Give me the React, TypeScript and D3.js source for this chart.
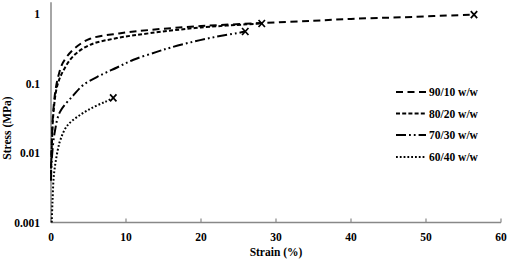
import React from "react";
import * as d3 from "d3";

const xTicks = [0, 10, 20, 30, 40, 50, 60];
const yTicks = [0.001, 0.01, 0.1, 1];
const yTickLabels = ["0.001", "0.01", "0.1", "1"];

const s9010: [number, number][] = [[0,0.006],[0.15,0.02],[0.3,0.04],[0.6,0.08],[1,0.13],[1.6,0.2],[3,0.31],[5.2,0.44],[8.8,0.52],[13.2,0.59],[20,0.67],[28,0.74],[35,0.8],[40,0.85],[47,0.9],[56.4,0.98]];
const s8020: [number, number][] = [[0,0.005],[0.1,0.012],[0.3,0.035],[0.8,0.09],[1.6,0.15],[3,0.25],[5.2,0.36],[8.8,0.45],[13.2,0.53],[20,0.64],[28.1,0.73]];
const s7030: [number, number][] = [[0,0.004],[0.1,0.008],[0.5,0.02],[1.2,0.039],[3,0.068],[4.3,0.095],[6.5,0.13],[8.8,0.17],[11,0.22],[14.1,0.285],[16,0.33],[19,0.4],[22,0.47],[24.8,0.53],[25.9,0.56]];
const s6040: [number, number][] = [[0.1,0.001],[0.2,0.002],[0.4,0.005],[0.9,0.011],[1.3,0.016],[2.2,0.025],[4,0.036],[5.7,0.046],[7.3,0.055],[8.3,0.062]];

const seriesNames = ["90/10 w/w", "80/20 w/w", "70/30 w/w", "60/40 w/w"];
const seriesData = [s9010, s8020, s7030, s6040];
const dashes = ["7 4.5", "4 2.2", "10 3 1.8 3 1.8 3", "1.8 2"];

export default function App() {
  const W = 510, H = 262;
  const x = d3.scaleLinear().domain([0, 60]).range([51, 501]);
  const y = d3.scaleLog().domain([0.001, 1]).range([222.5, 14]);
  const line = d3
    .line<[number, number]>()
    .x((d) => x(d[0]))
    .y((d) => y(d[1]))
    .curve(d3.curveCatmullRom.alpha(0.5));
  const font = "'Liberation Serif', 'Times New Roman', serif";
  const axisColor = "#888";
  const legendY = [92, 113.5, 135, 157];
  return (
    <svg width={W} height={H} style={{ position: "absolute", left: 0, top: 0, background: "#fff" }}>
      <rect width={W} height={H} fill="#fff" />
      <line x1={x(0)} x2={x(0)} y1={y(1.48)} y2={y(0.001)} stroke={axisColor} strokeWidth={1.5} />
      <line x1={x(0)} x2={x(60)} y1={y(0.001)} y2={y(0.001)} stroke={axisColor} strokeWidth={1.5} />
      {xTicks.map((t) => (
        <g key={t}>
          <line x1={x(t)} x2={x(t)} y1={y(0.001)} y2={y(0.001) - 4} stroke={axisColor} strokeWidth={1.2} />
          <text x={x(t)} y={237} textAnchor="middle" dominantBaseline="central" fontFamily={font} fontWeight="bold" fontSize={11.5} fill="#000">
            {t}
          </text>
        </g>
      ))}
      {yTicks.map((t, i) => (
        <text key={t} x={40} y={y(t)} textAnchor="end" dominantBaseline="central" fontFamily={font} fontWeight="bold" fontSize={11.5} fill="#000">
          {yTickLabels[i]}
        </text>
      ))}
      <text x={276} y={252} textAnchor="middle" dominantBaseline="central" fontFamily={font} fontWeight="bold" fontSize={11.5} fill="#000">
        Strain (%)
      </text>
      <text transform={`translate(7,128) rotate(-90)`} textAnchor="middle" dominantBaseline="central" fontFamily={font} fontWeight="bold" fontSize={11.5} fill="#000">
        Stress (MPa)
      </text>
      {seriesData.map((s, i) => {
        const last = s[s.length - 1];
        const cx = x(last[0]);
        const cy = y(last[1]);
        return (
          <g key={i}>
            <path d={line(s) || ""} fill="none" stroke="#000" strokeWidth={2} strokeDasharray={dashes[i]} />
            <path d={`M${cx - 3.2},${cy - 3.5}L${cx + 3.2},${cy + 3.5}M${cx - 3.2},${cy + 3.5}L${cx + 3.2},${cy - 3.5}`} stroke="#000" strokeWidth={1.7} fill="none" />
          </g>
        );
      })}
      {seriesNames.map((n, i) => (
        <g key={n}>
          <line x1={396} x2={426} y1={legendY[i]} y2={legendY[i]} stroke="#000" strokeWidth={2} strokeDasharray={dashes[i]} />
          <text x={429} y={legendY[i]} dominantBaseline="central" fontFamily={font} fontWeight="bold" fontSize={11.5} fill="#000">
            {n}
          </text>
        </g>
      ))}
    </svg>
  );
}
